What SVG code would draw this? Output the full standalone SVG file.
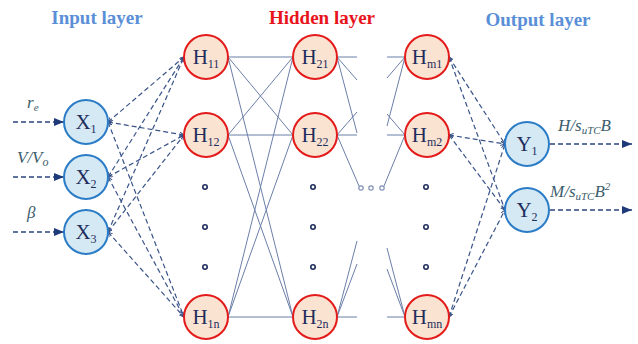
<svg xmlns="http://www.w3.org/2000/svg" width="638" height="344" viewBox="0 0 638 344">
<style>
.bg{fill:#ffffff}
.title{font-family:"Liberation Serif","Times New Roman",serif;font-weight:bold;font-size:19px;text-anchor:middle}
.blue{fill:#5a8fd8}
.red{fill:#e8141c}
.xn{fill:#d5e9f5;stroke:#2b7cc6;stroke-width:2}
.hn{fill:#fbe3d2;stroke:#e31b1b;stroke-width:2}
.lbl{font-family:"Liberation Serif","Times New Roman",serif;font-size:21px;fill:#1e2d5c;text-anchor:middle}
.sub{font-size:12px}
.io{font-family:"Liberation Serif","Times New Roman",serif;font-style:italic;font-size:17px;fill:#3c5e6c}
.solid{stroke:#6b7ea8;stroke-width:1;fill:none}
.dash{stroke:#3a5489;stroke-width:1.2;stroke-dasharray:5 3;fill:none;marker-start:url(#oa);marker-end:url(#oa)}
.arr{stroke:#2c4580;stroke-width:1.3;stroke-dasharray:5 3;fill:none;marker-end:url(#fa)}
.dot{fill:#ffffff;stroke:#1e2d5c;stroke-width:1.6}
.sdot{fill:#ffffff;stroke:#8090b5;stroke-width:1.2}
</style>
<defs>
<marker id="oa" markerWidth="6" markerHeight="6" refX="4.5" refY="2.25" orient="auto-start-reverse" markerUnits="userSpaceOnUse">
<path d="M0,0 L4.5,2.25 L0,4.5" fill="none" stroke="#3a5489" stroke-width="1"/>
</marker>
<marker id="fa" markerWidth="12" markerHeight="10" refX="10" refY="4" orient="auto" markerUnits="userSpaceOnUse">
<path d="M0,0 L10,4 L0,8 z" fill="#1f3a78"/>
</marker>
</defs>
<rect class="bg" x="0" y="0" width="638" height="344"/>
<text class="title blue" x="97" y="24">Input layer</text>
<text class="title red" x="322" y="24">Hidden layer</text>
<text class="title blue" x="538" y="26">Output layer</text>

<g id="connectors">
<line class="arr" x1="13" y1="122" x2="64" y2="122"/>
<line class="arr" x1="13" y1="177" x2="64" y2="177"/>
<line class="arr" x1="13" y1="232" x2="64" y2="232"/>
<line class="arr" x1="550" y1="144" x2="632" y2="144"/>
<line class="arr" x1="550" y1="210" x2="632" y2="210"/>
<line class="dash" x1="108" y1="122" x2="184" y2="57"/>
<line class="dash" x1="108" y1="122" x2="184" y2="135"/>
<line class="dash" x1="108" y1="122" x2="184" y2="317"/>
<line class="dash" x1="108" y1="177" x2="184" y2="57"/>
<line class="dash" x1="108" y1="177" x2="184" y2="135"/>
<line class="dash" x1="108" y1="177" x2="184" y2="317"/>
<line class="dash" x1="108" y1="232" x2="184" y2="57"/>
<line class="dash" x1="108" y1="232" x2="184" y2="135"/>
<line class="dash" x1="108" y1="232" x2="184" y2="317"/>
<line class="solid" x1="228" y1="57" x2="293" y2="57"/>
<line class="solid" x1="228" y1="57" x2="293" y2="135"/>
<line class="solid" x1="228" y1="57" x2="293" y2="317"/>
<line class="solid" x1="228" y1="135" x2="293" y2="57"/>
<line class="solid" x1="228" y1="135" x2="293" y2="135"/>
<line class="solid" x1="228" y1="135" x2="293" y2="317"/>
<line class="solid" x1="228" y1="317" x2="293" y2="57"/>
<line class="solid" x1="228" y1="317" x2="293" y2="135"/>
<line class="solid" x1="228" y1="317" x2="293" y2="317"/>
<line class="solid" x1="337" y1="57" x2="357" y2="57"/>
<line class="solid" x1="337" y1="57" x2="357" y2="80"/>
<line class="solid" x1="337" y1="57" x2="357" y2="133"/>
<line class="solid" x1="337" y1="135" x2="357" y2="112"/>
<line class="solid" x1="337" y1="135" x2="357" y2="135"/>
<line class="solid" x1="337" y1="135" x2="359" y2="186"/>
<line class="solid" x1="337" y1="317" x2="357" y2="241"/>
<line class="solid" x1="337" y1="317" x2="357" y2="264"/>
<line class="solid" x1="337" y1="317" x2="357" y2="317"/>
<line class="solid" x1="387" y1="57" x2="405" y2="57"/>
<line class="solid" x1="387" y1="78" x2="405" y2="57"/>
<line class="solid" x1="387" y1="126" x2="405" y2="57"/>
<line class="solid" x1="387" y1="114" x2="405" y2="135"/>
<line class="solid" x1="387" y1="135" x2="405" y2="135"/>
<line class="solid" x1="384" y1="186" x2="405" y2="135"/>
<line class="solid" x1="387" y1="248" x2="405" y2="317"/>
<line class="solid" x1="387" y1="269" x2="405" y2="317"/>
<line class="solid" x1="387" y1="317" x2="405" y2="317"/>
<line class="dash" x1="449" y1="57" x2="505" y2="144"/>
<line class="dash" x1="449" y1="57" x2="505" y2="210"/>
<line class="dash" x1="449" y1="135" x2="505" y2="144"/>
<line class="dash" x1="449" y1="135" x2="505" y2="210"/>
<line class="dash" x1="449" y1="317" x2="505" y2="144"/>
<line class="dash" x1="449" y1="317" x2="505" y2="210"/>
</g>

<g id="ellipsis">
<circle class="dot" cx="205" cy="187" r="2.2"/>
<circle class="dot" cx="205" cy="227" r="2.2"/>
<circle class="dot" cx="205" cy="267" r="2.2"/>
<circle class="dot" cx="313" cy="187" r="2.2"/>
<circle class="dot" cx="313" cy="227" r="2.2"/>
<circle class="dot" cx="313" cy="267" r="2.2"/>
<circle class="dot" cx="426" cy="187" r="2.2"/>
<circle class="dot" cx="426" cy="227" r="2.2"/>
<circle class="dot" cx="426" cy="267" r="2.2"/>
<circle class="sdot" cx="361" cy="188" r="2.2"/>
<circle class="sdot" cx="371" cy="188" r="2.2"/>
<circle class="sdot" cx="382" cy="188" r="2.2"/>
</g>

<g id="io-labels">
<text class="io" x="27" y="108">r<tspan font-size="11" dy="3">e</tspan></text>
<text class="io" x="17" y="163">V/V<tspan font-size="12" dy="3">o</tspan></text>
<text class="io" x="27" y="218">β</text>
<text class="io" x="558" y="131">H/s<tspan font-size="11" dy="3">uTC</tspan><tspan dy="-3">B</tspan></text>
<text class="io" x="550" y="197">M/s<tspan font-size="11" dy="3">uTC</tspan><tspan dy="-3">B</tspan><tspan font-size="11" dy="-7">2</tspan></text>
</g>

<g id="X1"><circle class="xn" cx="86" cy="122" r="22"/><text class="lbl" x="86" y="129">X<tspan class="sub" dy="4">1</tspan></text></g>
<g id="X2"><circle class="xn" cx="86" cy="177" r="22"/><text class="lbl" x="86" y="184">X<tspan class="sub" dy="4">2</tspan></text></g>
<g id="X3"><circle class="xn" cx="86" cy="232" r="22"/><text class="lbl" x="86" y="239">X<tspan class="sub" dy="4">3</tspan></text></g>

<g id="H11"><circle class="hn" cx="206" cy="57" r="22"/><text class="lbl" x="206" y="64">H<tspan class="sub" dy="4">11</tspan></text></g>
<g id="H12"><circle class="hn" cx="206" cy="135" r="22"/><text class="lbl" x="206" y="142">H<tspan class="sub" dy="4">12</tspan></text></g>
<g id="H1n"><circle class="hn" cx="206" cy="317" r="22"/><text class="lbl" x="206" y="324">H<tspan class="sub" dy="4">1n</tspan></text></g>
<g id="H21"><circle class="hn" cx="315" cy="57" r="22"/><text class="lbl" x="315" y="64">H<tspan class="sub" dy="4">21</tspan></text></g>
<g id="H22"><circle class="hn" cx="315" cy="135" r="22"/><text class="lbl" x="315" y="142">H<tspan class="sub" dy="4">22</tspan></text></g>
<g id="H2n"><circle class="hn" cx="315" cy="317" r="22"/><text class="lbl" x="315" y="324">H<tspan class="sub" dy="4">2n</tspan></text></g>
<g id="Hm1"><circle class="hn" cx="427" cy="57" r="22"/><text class="lbl" x="427" y="64">H<tspan class="sub" dy="4">m1</tspan></text></g>
<g id="Hm2"><circle class="hn" cx="427" cy="135" r="22"/><text class="lbl" x="427" y="142">H<tspan class="sub" dy="4">m2</tspan></text></g>
<g id="Hmn"><circle class="hn" cx="427" cy="317" r="22"/><text class="lbl" x="427" y="324">H<tspan class="sub" dy="4">mn</tspan></text></g>

<g id="Y1"><circle class="xn" cx="527" cy="144" r="22"/><text class="lbl" x="527" y="151">Y<tspan class="sub" dy="4">1</tspan></text></g>
<g id="Y2"><circle class="xn" cx="527" cy="210" r="22"/><text class="lbl" x="527" y="217">Y<tspan class="sub" dy="4">2</tspan></text></g>
</svg>
